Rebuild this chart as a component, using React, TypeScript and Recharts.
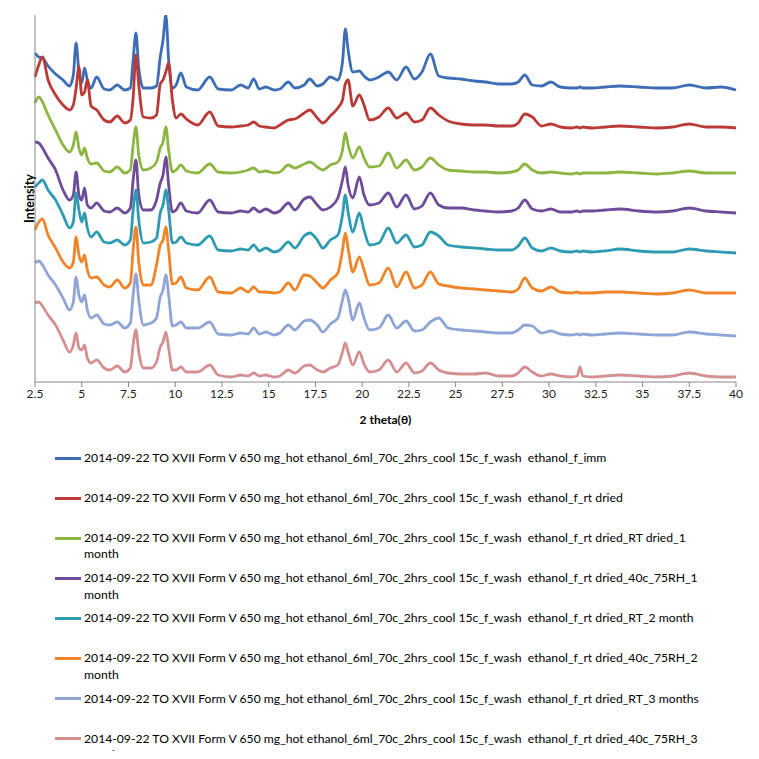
import { LineChart, Line, XAxis, YAxis, Legend } from "recharts"

const FONT = "Lato, 'Open Sans', sans-serif"

const ANGLES = [
  2.5, 2.7, 2.9, 3.2, 3.6, 4.0, 4.35, 4.55, 4.7, 4.85,
  5.0, 5.15, 5.3, 5.5, 5.8, 6.2, 6.5, 6.9, 7.3, 7.6,
  7.75, 7.9, 8.05, 8.3, 8.7, 9.0, 9.2, 9.35, 9.5, 9.65,
  9.85, 10.05, 10.3, 10.6, 11.2, 11.85, 12.3, 13.0, 13.5, 13.9,
  14.2, 14.5, 14.85, 15.3, 15.6, 16.05, 16.4, 16.9, 17.2, 17.6,
  17.9, 18.3, 18.7, 18.95, 19.1, 19.25, 19.5, 19.85, 20.1, 20.4,
  20.9, 21.4, 21.85, 22.35, 22.8, 23.2, 23.65, 24.1, 24.6, 25.3,
  26.0, 26.6, 27.3, 28.0, 28.35, 28.7, 29.1, 29.6, 30.1, 30.6,
  31.2, 31.5, 31.65, 31.8, 32.3, 33.0, 33.8, 34.8, 35.8, 36.6,
  37.5, 38.4, 39.2, 40,
]

const X_TICKS = [2.5, 5, 7.5, 10, 12.5, 15, 17.5, 20, 22.5, 25, 27.5, 30, 32.5, 35, 37.5, 40]

// intensities (arbitrary units, patterns already offset as in the plot)
const IMM = [
  329, 325, 324, 316, 308, 302, 296, 307, 339, 310,
  299, 314, 302, 294, 305, 293, 292, 297, 292, 294,
  322, 349, 314, 294, 294, 296, 325, 342, 367, 322,
  294, 297, 309, 295, 292, 305, 293, 292, 297, 294,
  303, 293, 295, 292, 293, 300, 294, 297, 303, 296,
  298, 305, 302, 320, 353, 332, 310, 311, 306, 302,
  305, 310, 302, 315, 303, 310, 328, 306, 304, 303,
  301, 300, 298, 298, 300, 307, 297, 296, 300, 295,
  294, 294, 295, 294, 294, 295, 296, 295, 294, 294,
  297, 294, 295, 292,
]

const RT_DRIED = [
  305, 317, 325, 302, 287, 277, 272, 277, 294, 315,
  287, 290, 302, 276, 272, 262, 260, 266, 259, 262,
  284, 327, 297, 265, 264, 267, 298, 302, 310, 319,
  282, 264, 268, 263, 257, 270, 256, 255, 256, 257,
  260, 256, 255, 254, 257, 262, 263, 269, 272, 264,
  259, 266, 274, 282, 298, 302, 276, 287, 277, 262,
  265, 274, 264, 269, 260, 262, 274, 267, 261, 258,
  257, 257, 256, 256, 259, 268, 265, 256, 258, 255,
  254, 255, 254, 255, 254, 255, 256, 255, 254, 255,
  258, 255, 255, 254,
]

const RT_1M = [
  279, 285, 280, 267, 252, 237, 230, 237, 250, 234,
  227, 234, 224, 218, 219, 211, 210, 215, 209, 212,
  237, 255, 227, 212, 214, 220, 234, 240, 255, 232,
  210, 212, 217, 211, 209, 218, 210, 209, 210, 212,
  214, 210, 211, 209, 210, 217, 214, 218, 220, 215,
  212, 217, 220, 232, 249, 237, 224, 235, 224, 215,
  216, 229, 214, 222, 212, 215, 224, 217, 212, 211,
  210, 210, 209, 210, 212, 218, 212, 209, 210, 209,
  208, 209, 208, 209, 209, 209, 210, 209, 208, 209,
  211, 209, 209, 209,
]

const RH_1M = [
  240, 239, 234, 224, 212, 192, 182, 187, 210, 187,
  182, 194, 177, 174, 179, 171, 170, 174, 169, 174,
  202, 222, 187, 172, 172, 182, 199, 207, 225, 197,
  170, 172, 179, 171, 169, 182, 170, 169, 171, 170,
  174, 170, 173, 169, 171, 179, 172, 183, 185, 177,
  172, 175, 184, 202, 215, 197, 184, 205, 187, 177,
  179, 189, 175, 187, 173, 176, 189, 177, 174, 174,
  172, 171, 170, 171, 174, 182, 173, 171, 173, 170,
  170, 171, 170, 171, 171, 172, 173, 171, 170, 171,
  174, 171, 170, 169,
]

const RT_2M = [
  195, 199, 202, 192, 182, 167, 154, 160, 189, 172,
  160, 169, 154, 145, 150, 140, 139, 142, 137, 142,
  172, 192, 162, 139, 140, 144, 169, 177, 192, 172,
  139, 140, 145, 139, 137, 146, 132, 131, 133, 132,
  137, 131, 134, 130, 132, 140, 134, 146, 149, 142,
  134, 142, 147, 167, 187, 170, 150, 169, 152, 137,
  139, 154, 139, 147, 135, 137, 150, 146, 137, 135,
  134, 133, 132, 132, 136, 144, 134, 131, 134, 131,
  130, 131, 130, 131, 130, 131, 133, 131, 130, 130,
  133, 131, 130, 129,
]

const RH_2M = [
  152, 160, 163, 147, 134, 120, 114, 120, 145, 127,
  120, 127, 112, 104, 105, 97, 95, 102, 94, 99,
  132, 155, 120, 97, 97, 117, 137, 142, 155, 132,
  98, 99, 105, 94, 92, 105, 90, 89, 94, 90,
  95, 90, 90, 89, 90, 99, 92, 107, 106, 99,
  94, 102, 109, 132, 149, 134, 110, 125, 112, 97,
  99, 114, 95, 110, 94, 97, 110, 98, 96, 94,
  93, 92, 91, 90, 93, 104, 94, 91, 95, 90,
  89, 90, 89, 89, 89, 90, 90, 89, 88, 89,
  92, 89, 89, 89,
]

const RT_3M = [
  119, 121, 117, 107, 97, 84, 72, 80, 105, 87,
  80, 87, 72, 64, 67, 58, 57, 60, 54, 59,
  87, 108, 82, 57, 59, 64, 85, 92, 107, 87,
  56, 57, 60, 54, 54, 60, 48, 47, 49, 48,
  54, 48, 50, 47, 49, 57, 52, 61, 62, 57,
  50, 58, 64, 82, 92, 84, 62, 79, 64, 52,
  54, 67, 54, 61, 51, 52, 60, 64, 54, 52,
  51, 50, 49, 49, 52, 57, 56, 49, 51, 48,
  47, 48, 47, 48, 47, 48, 49, 48, 47, 47,
  50, 48, 47, 46,
]

const RH_3M = [
  79, 80, 76, 67, 57, 42, 30, 37, 49, 34,
  32, 37, 24, 19, 22, 14, 12, 16, 10, 14,
  37, 52, 30, 14, 14, 20, 35, 40, 50, 34,
  12, 12, 15, 10, 10, 17, 7, 5, 7, 6,
  9, 6, 7, 5, 6, 12, 9, 16, 17, 12,
  10, 14, 17, 30, 39, 30, 17, 30, 18, 10,
  12, 22, 10, 19, 9, 11, 19, 12, 9, 8,
  8, 9, 6, 6, 9, 15, 10, 6, 8, 6,
  5, 6, 15, 6, 5, 6, 7, 6, 5, 6,
  9, 6, 5, 5,
]

const NAMES = [
  "2014-09-22 TO XVII Form V 650 mg_hot ethanol_6ml_70c_2hrs_cool 15c_f_wash  ethanol_f_imm",
  "2014-09-22 TO XVII Form V 650 mg_hot ethanol_6ml_70c_2hrs_cool 15c_f_wash  ethanol_f_rt dried",
  "2014-09-22 TO XVII Form V 650 mg_hot ethanol_6ml_70c_2hrs_cool 15c_f_wash  ethanol_f_rt dried_RT dried_1 month",
  "2014-09-22 TO XVII Form V 650 mg_hot ethanol_6ml_70c_2hrs_cool 15c_f_wash  ethanol_f_rt dried_40c_75RH_1 month",
  "2014-09-22 TO XVII Form V 650 mg_hot ethanol_6ml_70c_2hrs_cool 15c_f_wash  ethanol_f_rt dried_RT_2 month",
  "2014-09-22 TO XVII Form V 650 mg_hot ethanol_6ml_70c_2hrs_cool 15c_f_wash  ethanol_f_rt dried_40c_75RH_2 month",
  "2014-09-22 TO XVII Form V 650 mg_hot ethanol_6ml_70c_2hrs_cool 15c_f_wash  ethanol_f_rt dried_RT_3 months",
  "2014-09-22 TO XVII Form V 650 mg_hot ethanol_6ml_70c_2hrs_cool 15c_f_wash  ethanol_f_rt dried_40c_75RH_3 months",
]

const SERIES = [IMM, RT_DRIED, RT_1M, RH_1M, RT_2M, RH_2M, RT_3M, RH_3M]
const COLORS = ["#3d6db5", "#bb3a37", "#8db542", "#6e4c9a", "#2f9bb2", "#ef8428", "#8ea5d6", "#d49090"]

const data = ANGLES.map((angle, i) => {
  const row: Record<string, number> = { angle }
  SERIES.forEach((s, k) => {
    row["s" + k] = s[i]
  })
  return row
})

function XrdLegend({ payload }: any) {
  // keep the series order (recharts sorts legend items by name otherwise)
  const items = [...(payload ?? [])].sort((a: any, b: any) => NAMES.indexOf(a.value) - NAMES.indexOf(b.value))
  return (
    <div style={{ fontFamily: FONT, fontSize: 12.2, color: "#000" }}>
      {items.map((p: any) => (
        <div key={p.value} style={{ display: "flex", height: 40.1 }}>
          <div style={{ width: 26, height: 3, background: p.color, marginTop: 6.5, marginLeft: 55, marginRight: 3, flex: "none" }} />
          <div style={{ width: 634, lineHeight: "16.3px", whiteSpace: "pre-wrap" }}>{p.value}</div>
        </div>
      ))}
    </div>
  )
}

export default function App() {
  return (
    <div style={{ position: "relative", width: 759, height: 759, margin: -8, overflow: "hidden", background: "#fff" }}>
      <LineChart width={759} height={759} data={data} margin={{ top: 15, right: 23, left: 25, bottom: 332 }}>
        <XAxis
          dataKey="angle"
          type="number"
          domain={[2.5, 40]}
          ticks={X_TICKS}
          height={45}
          stroke="#868686"
          tickSize={5}
          tick={{ fill: "#222", fontSize: 12, fontFamily: FONT }}
          label={{ value: "2 theta(θ)", position: "insideBottom", offset: 3, fill: "#000", fontSize: 12, fontWeight: "bold", fontFamily: FONT }}
        />
        <YAxis
          type="number"
          domain={[0, 367]}
          allowDataOverflow
          width={10}
          stroke="#868686"
          tick={false}
          tickLine={false}
          label={{ value: "Intensity", angle: -90, position: "center", fill: "#000", fontSize: 12.5, fontWeight: "bold", fontFamily: FONT }}
        />
        <Legend
          layout="vertical"
          align="center"
          verticalAlign="middle"
          content={<XrdLegend />}
          wrapperStyle={{ left: 0, top: 450, width: 759 }}
        />
        {SERIES.map((_, k) => (
          <Line
            key={k}
            dataKey={"s" + k}
            name={NAMES[k]}
            stroke={COLORS[k]}
            strokeWidth={2.8}
            dot={false}
            type="monotone"
            isAnimationActive={false}
          />
        ))}
      </LineChart>
      <div
        style={{
          position: "absolute",
          left: 1,
          top: 1,
          width: 756,
          height: 756,
          border: "1px solid #898989",
          boxSizing: "border-box",
          pointerEvents: "none",
        }}
      />
    </div>
  )
}
